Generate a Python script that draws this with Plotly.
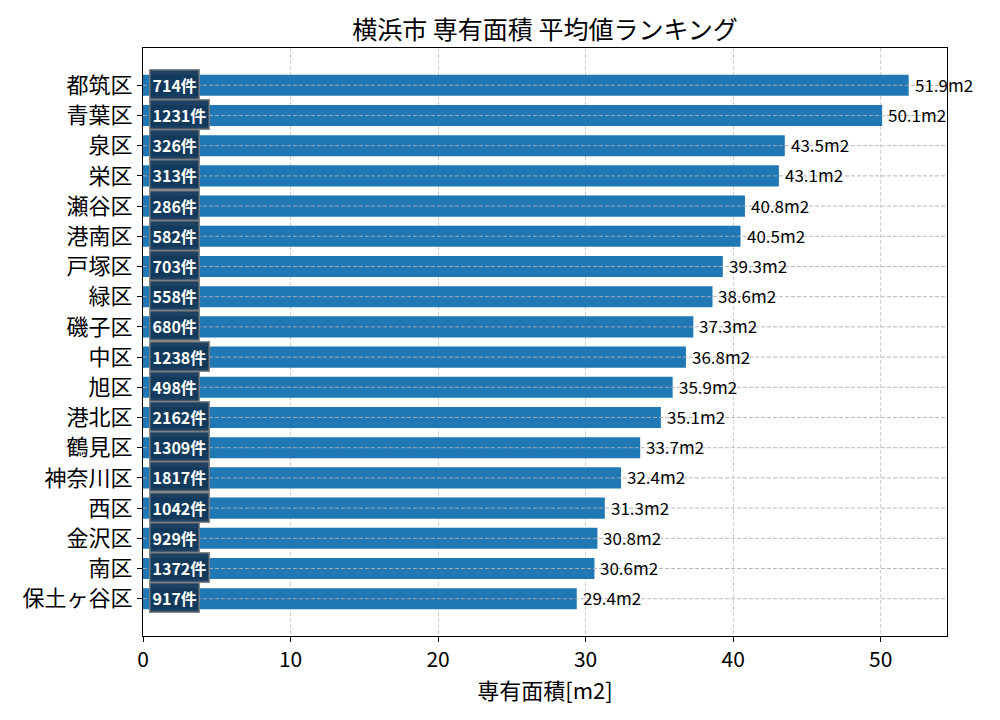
import plotly.graph_objects as go

wards = ["都筑区", "青葉区", "泉区", "栄区", "瀬谷区", "港南区", "戸塚区", "緑区", "磯子区",
         "中区", "旭区", "港北区", "鶴見区", "神奈川区", "西区", "金沢区", "南区", "保土ヶ谷区"]
avg_area = [51.9, 50.1, 43.5, 43.1, 40.8, 40.5, 39.3, 38.6, 37.3,
            36.8, 35.9, 35.1, 33.7, 32.4, 31.3, 30.8, 30.6, 29.4]
counts = [714, 1231, 326, 313, 286, 582, 703, 558, 680,
          1238, 498, 2162, 1309, 1817, 1042, 929, 1372, 917]

FONT = "Noto Sans CJK JP"
n = len(wards)
xmax = max(avg_area) * 1.05

fig = go.Figure()
fig.add_trace(go.Bar(
    x=avg_area, y=list(range(n)), orientation="h",
    marker=dict(color="#1f77b4", line=dict(width=0)),
    width=0.7, hoverinfo="skip",
))

# horizontal dashed lines over bars
for i in range(n):
    fig.add_shape(type="line", xref="paper", x0=0, x1=1, yref="y", y0=i, y1=i,
                  line=dict(color="rgba(176,176,176,0.9)", width=1, dash="4px,2px"),
                  layer="above")

for i, (v, c) in enumerate(zip(avg_area, counts)):
    fig.add_annotation(x=v, y=i, text=f"{v:.1f}m2", showarrow=False,
                       xanchor="left", yanchor="middle", xshift=4, yshift=1,
                       font=dict(family=FONT, size=17, color="black"))
    fig.add_annotation(x=0.4, y=i, text=f"<b>{c}件</b>", showarrow=False,
                       xanchor="left", yanchor="middle", yshift=1,
                       font=dict(family=FONT, size=16, color="white"),
                       bgcolor="rgba(18,55,88,0.95)", bordercolor="rgba(128,128,128,0.9)",
                       borderwidth=1.5, borderpad=2)

fig.update_layout(
    width=992, height=712,
    margin=dict(l=135, r=53, t=40, b=84),
    paper_bgcolor="white", plot_bgcolor="white",
    showlegend=False,
    title=dict(text="横浜市 専有面積 平均値ランキング", x=0.5, xref="paper",
               y=1 - 22 / 712, yanchor="middle",
               font=dict(family=FONT, size=25, color="black")),
    font=dict(family=FONT, color="black"),
    xaxis=dict(range=[0, xmax], tickmode="linear", tick0=0, dtick=10,
               showgrid=True, gridcolor="rgba(205,205,205,0.9)", griddash="4px,2px", gridwidth=1,
               showline=True, linecolor="black", linewidth=1, mirror=True,
               ticks="outside", ticklen=5, tickcolor="black",
               tickfont=dict(family=FONT, size=21),
               title=dict(text="専有面積[m2]", font=dict(family=FONT, size=22), standoff=6),
               zeroline=False),
    yaxis=dict(range=[n - 1 + 1.235, -1.235], tickmode="array",
               tickvals=list(range(n)), ticktext=wards,
               showgrid=False, zeroline=False,
               showline=True, linecolor="black", linewidth=1, mirror=True,
               ticks="outside", ticklen=5, tickcolor="black",
               tickfont=dict(family=FONT, size=22)),
)

fig.write_html("out.html")
